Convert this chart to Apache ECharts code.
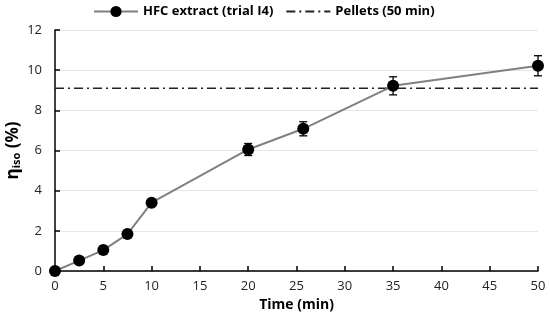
<!DOCTYPE html>
<html><head><meta charset="utf-8">
<script src="https://cdn.jsdelivr.net/npm/echarts@6/dist/echarts.min.js"></script>
<style>html,body{margin:0;padding:0;background:#fff}#c{width:550px;height:322px}</style>
</head><body><div id="c"></div>
<script>
var timeMin = [0, 2.5, 5, 7.5, 10, 20, 25.7, 35, 50];
var etaIso = [0, 0.52, 1.04, 1.84, 3.4, 6.05, 7.08, 9.22, 10.22];
var etaErr = [0, 0, 0, 0, 0, 0.3, 0.35, 0.45, 0.5];
var pelletsValue = 9.1;
var pelletsRange = [0, 50];
var xTicks = [0, 5, 10, 15, 20, 25, 30, 35, 40, 45, 50];
var yTicks = [0, 2, 4, 6, 8, 10, 12];

var FONT = 'Open Sans';
var chart = echarts.init(document.getElementById('c'), null, {renderer: 'canvas'});
var lineData = timeMin.map(function (t, i) { return [t, etaIso[i]]; });
var errData = timeMin.map(function (t, i) { return [t, etaIso[i] - etaErr[i], etaIso[i] + etaErr[i]]; })
  .filter(function (d, i) { return etaErr[i] > 0; });

chart.setOption({
  animation: false,
  textStyle: {fontFamily: FONT},
  grid: {left: 55, right: 12, top: 30, bottom: 51, containLabel: false, outerBoundsMode: 'none'},
  legend: {
    top: 0, left: 88, itemGap: 12, itemWidth: 44, itemHeight: 14,
    textStyle: {fontFamily: FONT, fontWeight: 'bold', fontSize: 13, color: '#000'},
    data: [
      {name: 'HFC extract (trial I4)'},
      {name: 'Pellets (50 min)', itemStyle: {opacity: 0}}
    ]
  },
  xAxis: {
    type: 'value', min: 0, max: 50, interval: 5,
    name: 'Time (min)', nameLocation: 'middle', nameGap: 27, nameMoveOverlap: false,
    nameTextStyle: {fontFamily: FONT, fontWeight: 'bold', fontSize: 14, color: '#000'},
    axisLine: {lineStyle: {color: '#000', width: 1.5}},
    axisTick: {inside: true, length: 5, lineStyle: {color: '#000', width: 1.5}},
    axisLabel: {fontFamily: FONT, fontSize: 13, color: '#222', margin: 9,
      formatter: function (v) { return xTicks.indexOf(v) >= 0 ? String(v) : ''; }},
    splitLine: {show: false}
  },
  yAxis: {
    type: 'value', min: 0, max: 12, interval: 2,
    name: '{b|η}{s|iso}{b| (%)}', nameLocation: 'middle', nameGap: 33, nameRotate: 90, nameMoveOverlap: false,
    nameTextStyle: {
      rich: {
        b: {fontFamily: FONT, fontWeight: 'bold', fontSize: 17, color: '#000'},
        s: {fontFamily: FONT, fontWeight: 'bold', fontSize: 11, color: '#000', padding: [7, 0, 0, 0]}
      }
    },
    axisLine: {show: true, lineStyle: {color: '#000', width: 1.5}},
    axisTick: {show: true, inside: true, length: 5, lineStyle: {color: '#000', width: 1.5}},
    axisLabel: {fontFamily: FONT, fontSize: 13, color: '#222', margin: 13,
      formatter: function (v) { return yTicks.indexOf(v) >= 0 ? String(v) : ''; }},
    splitLine: {lineStyle: {color: '#e6e6e6', width: 1}}
  },
  series: [
    {
      name: 'Pellets (50 min)', type: 'line', symbol: 'none', showSymbol: false, z: 2,
      data: [[pelletsRange[0], pelletsValue], [pelletsRange[1], pelletsValue]],
      lineStyle: {color: '#222', width: 1.5, type: [9, 4, 2, 4]},
      itemStyle: {color: '#222'}
    },
    {
      name: 'errors', type: 'custom', z: 3,
      data: errData,
      renderItem: function (params, api) {
        var x = api.value(0);
        var lo = api.coord([x, api.value(1)]);
        var hi = api.coord([x, api.value(2)]);
        var w = 4;
        var st = {stroke: '#000', lineWidth: 1.3};
        return {type: 'group', children: [
          {type: 'line', shape: {x1: lo[0], y1: lo[1], x2: hi[0], y2: hi[1]}, style: st},
          {type: 'line', shape: {x1: lo[0] - w, y1: lo[1], x2: lo[0] + w, y2: lo[1]}, style: st},
          {type: 'line', shape: {x1: hi[0] - w, y1: hi[1], x2: hi[0] + w, y2: hi[1]}, style: st}
        ]};
      }
    },
    {
      name: 'HFC extract (trial I4)', type: 'line', z: 4,
      data: lineData,
      symbol: 'circle', symbolSize: 12,
      lineStyle: {color: '#808080', width: 2},
      itemStyle: {color: '#000'}
    }
  ]
});
</script></body></html>
